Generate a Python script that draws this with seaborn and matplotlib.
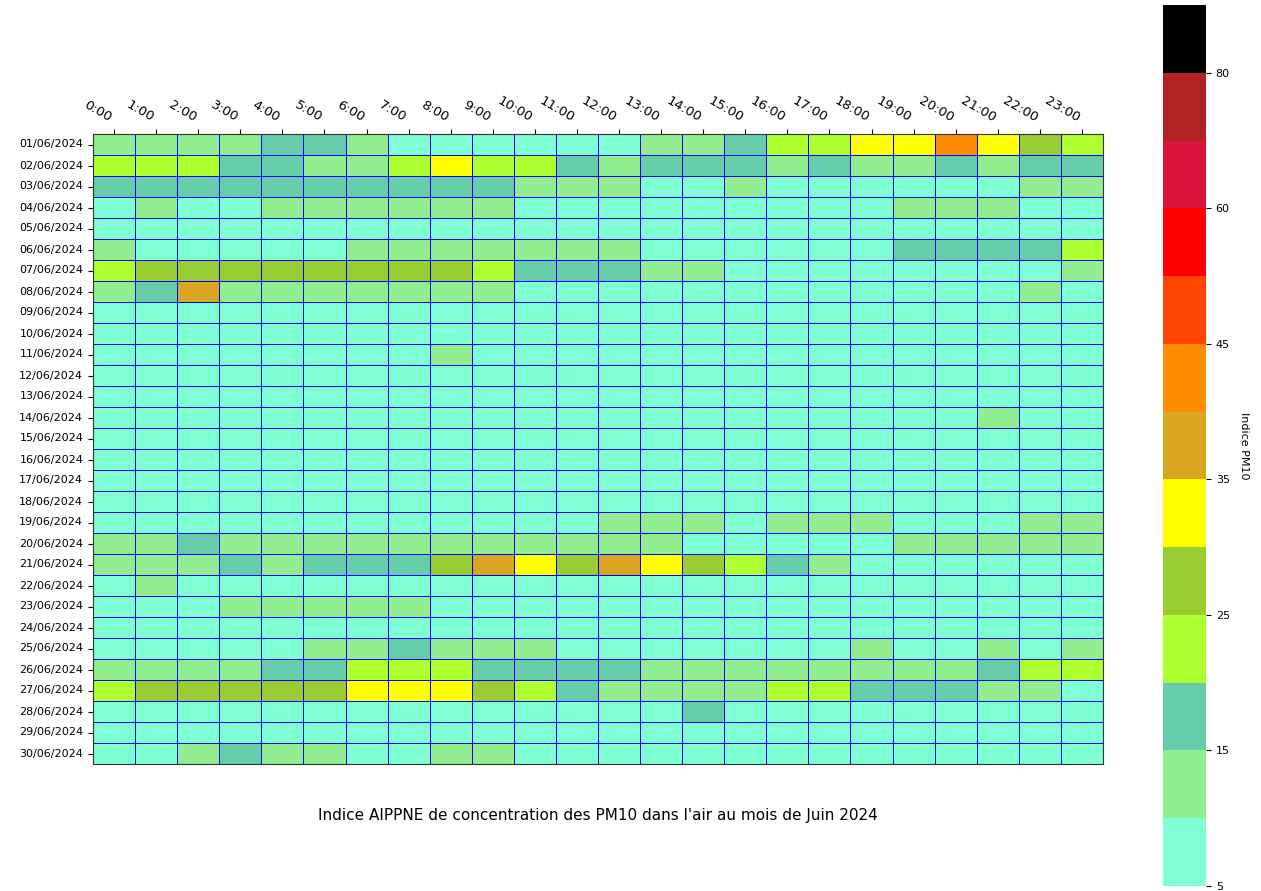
import numpy as np
import pandas as pd
import seaborn as sns
import matplotlib.pyplot as plt
from matplotlib.colors import ListedColormap, BoundaryNorm

# hours (columns) and days (rows)
hours = [f"{h}:00" for h in range(24)]
days = [f"{d:02d}/06/2024" for d in range(1, 31)]

# PM10 index, one list per day
pm10 = [
    [12, 12, 12, 12, 17, 17, 12, 8, 8, 8, 8, 8, 8, 12, 12, 17, 22, 22, 32, 32, 42, 32, 27, 22],
    [22, 22, 22, 17, 17, 12, 12, 22, 32, 22, 22, 17, 12, 17, 17, 17, 12, 17, 12, 12, 17, 12, 17, 17],
    [17, 17, 17, 17, 17, 17, 17, 17, 17, 17, 12, 12, 12, 8, 8, 12, 8, 8, 8, 8, 8, 8, 12, 12],
    [8, 12, 8, 8, 12, 12, 12, 12, 12, 12, 8, 8, 8, 8, 8, 8, 8, 8, 8, 12, 12, 12, 8, 8],
    [8, 8, 8, 8, 8, 8, 8, 8, 8, 8, 8, 8, 8, 8, 8, 8, 8, 8, 8, 8, 8, 8, 8, 8],
    [12, 8, 8, 8, 8, 8, 12, 12, 12, 12, 12, 12, 12, 8, 8, 8, 8, 8, 8, 17, 17, 17, 17, 22],
    [22, 27, 27, 27, 27, 27, 27, 27, 27, 22, 17, 17, 17, 12, 12, 8, 8, 8, 8, 8, 8, 8, 8, 12],
    [12, 17, 37, 12, 12, 12, 12, 12, 12, 12, 8, 8, 8, 8, 8, 8, 8, 8, 8, 8, 8, 8, 12, 8],
    [8, 8, 8, 8, 8, 8, 8, 8, 8, 8, 8, 8, 8, 8, 8, 8, 8, 8, 8, 8, 8, 8, 8, 8],
    [8, 8, 8, 8, 8, 8, 8, 8, 8, 8, 8, 8, 8, 8, 8, 8, 8, 8, 8, 8, 8, 8, 8, 8],
    [8, 8, 8, 8, 8, 8, 8, 8, 12, 8, 8, 8, 8, 8, 8, 8, 8, 8, 8, 8, 8, 8, 8, 8],
    [8, 8, 8, 8, 8, 8, 8, 8, 8, 8, 8, 8, 8, 8, 8, 8, 8, 8, 8, 8, 8, 8, 8, 8],
    [8, 8, 8, 8, 8, 8, 8, 8, 8, 8, 8, 8, 8, 8, 8, 8, 8, 8, 8, 8, 8, 8, 8, 8],
    [8, 8, 8, 8, 8, 8, 8, 8, 8, 8, 8, 8, 8, 8, 8, 8, 8, 8, 8, 8, 8, 12, 8, 8],
    [8, 8, 8, 8, 8, 8, 8, 8, 8, 8, 8, 8, 8, 8, 8, 8, 8, 8, 8, 8, 8, 8, 8, 8],
    [8, 8, 8, 8, 8, 8, 8, 8, 8, 8, 8, 8, 8, 8, 8, 8, 8, 8, 8, 8, 8, 8, 8, 8],
    [8, 8, 8, 8, 8, 8, 8, 8, 8, 8, 8, 8, 8, 8, 8, 8, 8, 8, 8, 8, 8, 8, 8, 8],
    [8, 8, 8, 8, 8, 8, 8, 8, 8, 8, 8, 8, 8, 8, 8, 8, 8, 8, 8, 8, 8, 8, 8, 8],
    [8, 8, 8, 8, 8, 8, 8, 8, 8, 8, 8, 8, 12, 12, 12, 8, 12, 12, 12, 8, 8, 8, 12, 12],
    [12, 12, 17, 12, 12, 12, 12, 12, 12, 12, 12, 12, 12, 12, 8, 8, 8, 8, 8, 12, 12, 12, 12, 12],
    [12, 12, 12, 17, 12, 17, 17, 17, 27, 37, 32, 27, 37, 32, 27, 22, 17, 12, 8, 8, 8, 8, 8, 8],
    [8, 12, 8, 8, 8, 8, 8, 8, 8, 8, 8, 8, 8, 8, 8, 8, 8, 8, 8, 8, 8, 8, 8, 8],
    [8, 8, 8, 12, 12, 12, 12, 12, 8, 8, 8, 8, 8, 8, 8, 8, 8, 8, 8, 8, 8, 8, 8, 8],
    [8, 8, 8, 8, 8, 8, 8, 8, 8, 8, 8, 8, 8, 8, 8, 8, 8, 8, 8, 8, 8, 8, 8, 8],
    [8, 8, 8, 8, 8, 12, 12, 17, 12, 12, 12, 8, 8, 8, 8, 8, 8, 8, 12, 8, 8, 12, 8, 12],
    [12, 12, 12, 12, 17, 17, 22, 22, 22, 17, 17, 17, 17, 12, 12, 12, 12, 12, 12, 12, 12, 17, 22, 22],
    [22, 27, 27, 27, 27, 27, 32, 32, 32, 27, 22, 17, 12, 12, 12, 12, 22, 22, 17, 17, 17, 12, 12, 8],
    [8, 8, 8, 8, 8, 8, 8, 8, 8, 8, 8, 8, 8, 8, 17, 8, 8, 8, 8, 8, 8, 8, 8, 8],
    [8, 8, 8, 8, 8, 8, 8, 8, 8, 8, 8, 8, 8, 8, 8, 8, 8, 8, 8, 8, 8, 8, 8, 8],
    [8, 8, 12, 17, 12, 12, 8, 8, 12, 12, 8, 8, 8, 8, 8, 8, 8, 8, 8, 8, 8, 8, 8, 8],
]

# AIPPNE index scale
bounds = [5, 10, 15, 20, 25, 30, 35, 40, 45, 50, 60, 70, 80, 100]
colors = ["aquamarine", "lightgreen", "mediumaquamarine", "greenyellow", "yellowgreen",
          "yellow", "goldenrod", "darkorange", "orangered", "red", "crimson",
          "firebrick", "black"]
cbar_ticks = [5, 15, 25, 35, 45, 60, 80]

df = pd.DataFrame(pm10, index=days, columns=hours)
cmap = ListedColormap(colors)
norm = BoundaryNorm(bounds, cmap.N)

fig = plt.figure(figsize=(12.61, 8.91), dpi=100)
ax = fig.add_axes([93 / 1261, 1 - 764 / 891, 1010 / 1261, 630 / 891])
cax = fig.add_axes([1163 / 1261, 5 / 891, 43 / 1261, 881 / 891])

sns.heatmap(df, cmap=cmap, norm=norm, linewidths=0.6, linecolor="blue",
            ax=ax, cbar_ax=cax, cbar_kws={"ticks": cbar_ticks})

ax.xaxis.tick_top()
ax.set_xticklabels(hours, rotation=-30, ha="right", fontsize=9.5)
ax.set_yticklabels(days, rotation=0, fontsize=8)
for s in ax.spines.values():
    s.set_visible(True)
    s.set_color("#333333")
    s.set_linewidth(0.8)
ax.set_ylabel("")
ax.set_xlabel("Indice AIPPNE de concentration des PM10 dans l'air au mois de Juin 2024",
              fontsize=11, labelpad=32)

cax.minorticks_off()
cax.tick_params(labelsize=8)
cax.set_ylabel("Indice PM10", rotation=270, labelpad=14, fontsize=8)

fig.savefig("out.png", dpi=100)
